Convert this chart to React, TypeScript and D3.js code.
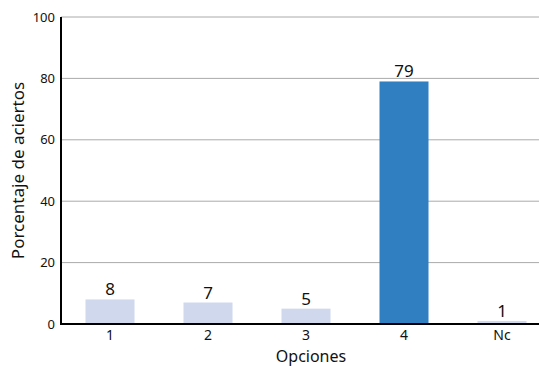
import React from "react";
import * as d3 from "d3";

const categories = ["1", "2", "3", "4", "Nc"];
const values = [8, 7, 5, 79, 1];
const highlight = [false, false, false, true, false];
const yTicks = [0, 20, 40, 60, 80, 100];

const W = 539, H = 366;
const left = 61, right = 551, top = 17, bottom = 324;

export default function App() {
  const x = d3.scaleBand<string>().domain(categories).range([left, right]).paddingInner(0.5).paddingOuter(0.25);
  const y = d3.scaleLinear().domain([0, 100]).range([bottom, top]);
  const font = "'Noto Sans', sans-serif";
  return (
    <svg width={W} height={H} style={{ position: "absolute", left: 0, top: 0 }} fontFamily={font}>
      {yTicks.map((t) => (
        <g key={t}>
          {t > 0 && <line x1={left} x2={W} y1={y(t)} y2={y(t)} stroke="#aaa" strokeWidth={1} />}
          <text x={left - 6} y={y(t)} dy="0.35em" textAnchor="end" fontSize={13} fill="#111">{t}</text>
        </g>
      ))}
      {categories.map((c, i) => (
        <g key={c}>
          <rect x={x(c)!} width={x.bandwidth()} y={y(values[i])} height={y(0) - y(values[i])}
            fill={highlight[i] ? "#2f7fc1" : "#cfd8ec"} />
          <text x={x(c)! + x.bandwidth() / 2} y={y(values[i]) - 4} textAnchor="middle" fontSize={17} fill="#111">{values[i]}</text>
          <text x={x(c)! + x.bandwidth() / 2} y={bottom + 16} textAnchor="middle" fontSize={14} fill="#111">{c}</text>
        </g>
      ))}
      <line x1={left} x2={left} y1={top} y2={bottom} stroke="#000" strokeWidth={2} />
      <line x1={left - 1} x2={W} y1={bottom} y2={bottom} stroke="#000" strokeWidth={2} />
      <text x={311} y={362} textAnchor="middle" fontSize={16} fill="#111">Opciones</text>
      <text transform={`translate(24,${(top + bottom) / 2}) rotate(-90)`} textAnchor="middle" fontSize={17} fill="#111">Porcentaje de aciertos</text>
    </svg>
  );
}
